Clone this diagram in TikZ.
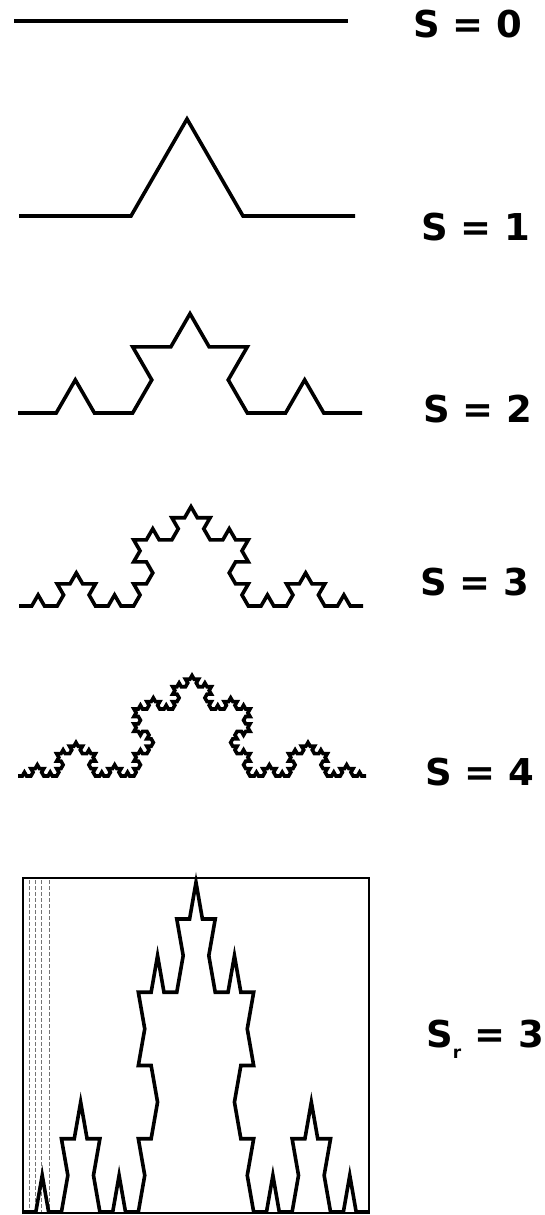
\documentclass[tikz,border=0pt]{standalone}
\usepackage{fontspec}
\newfontfamily\lblfont{DejaVu Sans}
\usepackage{tikz}
\usetikzlibrary{positioning}

% Koch curve of a given level, drawn segment by segment (optional vertical stretch)
\newcommand\kochcurve[5]{%
  \pgfmathtruncatemacro\kseg{4^#2-1}%
  \pgfmathsetmacro\klen{#4/3^#2}%
  \draw[#1] (#3) \foreach \i [evaluate=\i as \kang using
      {60*((mod(floor(\i),4)==1)-(mod(floor(\i),4)==2)
          +(mod(floor(\i/4),4)==1)-(mod(floor(\i/4),4)==2)
          +(mod(floor(\i/16),4)==1)-(mod(floor(\i/16),4)==2)
          +(mod(floor(\i/64),4)==1)-(mod(floor(\i/64),4)==2))}]
      in {0,...,\kseg} { -- ++({\klen*cos(\kang)},{-#5*\klen*sin(\kang)}) };
}

\begin{document}
\begin{tikzpicture}[x=1pt, y=-1pt,
  curve/.style={draw=black, line width=3.6pt, line join=miter},
  lbl/.style={font=\lblfont\bfseries\fontsize{37}{37}\selectfont, anchor=base west, inner sep=0pt},
  frame/.style={draw=black, line width=1.4pt},
  guide/.style={draw=gray!90!black, line width=0.8pt, dash pattern=on 4pt off 2pt},
]
\useasboundingbox (0,0) rectangle (544,1215);

\coordinate (k0) at (14,21);
\coordinate (k1) at (19,216);
\coordinate (k2) at (18,413);
\coordinate (k3) at (19,606);
\coordinate (k4) at (18,776);
\coordinate (kr) at (23,1212);

\kochcurve{curve}{0}{k0}{334}{1}
\kochcurve{curve}{1}{k1}{336}{1}
\kochcurve{curve}{2}{k2}{344}{1}
\kochcurve{curve}{3}{k3}{344}{1}
\kochcurve{curve}{4}{k4}{348}{1}

% stretched curve in its frame
\draw[frame] (23,878) rectangle (369,1213);
\foreach \gx in {29,35,41,49}{ \draw[guide] (\gx,880) -- (\gx,1212); }
\kochcurve{curve}{3}{kr}{346}{3.3}

\node[lbl] (s0) at (413,38)  {S = 0};
\node[lbl] (s1) at (421,240) {S = 1};
\node[lbl] (s2) at (423,422) {S = 2};
\node[lbl] (s3) at (420,595) {S = 3};
\node[lbl] (s4) at (425,785) {S = 4};
\node[lbl] (sr) at (426,1047)
  {S\raisebox{-0.32em}{\fontsize{17}{17}\selectfont r} = 3};
\end{tikzpicture}
\end{document}
